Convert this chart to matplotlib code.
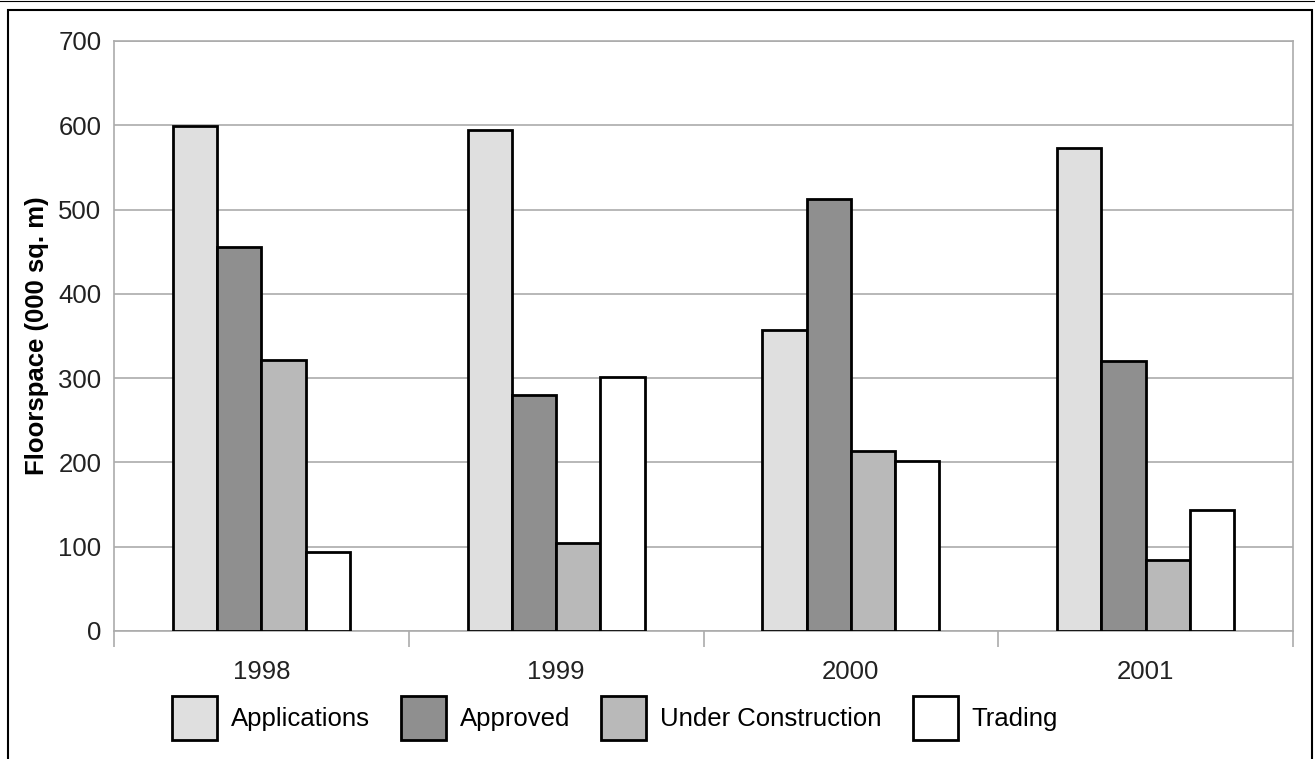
import matplotlib
matplotlib.use('Agg')
import matplotlib.pyplot as plt
import numpy as np
from matplotlib.patches import Rectangle
from matplotlib.lines import Line2D

plt.rcParams['font.family'] = ['Liberation Sans', 'DejaVu Sans']

years = ['1998', '1999', '2000', '2001']
series = ['Applications', 'Approved', 'Under Construction', 'Trading']
applications = [599, 594, 357, 573]
approved = [456, 280, 513, 320]
under_construction = [321, 105, 214, 84]
trading = [94, 301, 202, 143]
colors = ['#dfdfdf', '#8f8f8f', '#b9b9b9', '#ffffff']

grid_grey = '#ababab'


def main():
    fig = plt.figure(figsize=(13.15, 7.59), dpi=100)
    ax = fig.add_axes([114 / 1315, 1 - 631 / 759, 1179 / 1315, 590 / 759])

    x = np.arange(len(years))
    width = 0.15
    values = [applications, approved, under_construction, trading]
    for i, (name, vals, col) in enumerate(zip(series, values, colors)):
        ax.bar(x + (i - 1.5) * width, vals, width, color=col, edgecolor='black',
               linewidth=2.0, label=name, zorder=3)

    ax.set_xlim(-0.5, len(years) - 0.5)
    ax.set_ylim(0, 700)
    ax.set_yticks(np.arange(0, 701, 100))
    ax.yaxis.grid(True, color=grid_grey, linewidth=1.2, zorder=0)
    ax.tick_params(axis='y', length=0, pad=9, labelsize=18.5, labelcolor='#222222')

    # year labels at centres, separator ticks between the groups
    ax.set_xticks(x)
    ax.set_xticklabels(years)
    ax.set_xticks(np.arange(-0.5, len(years)), minor=True)
    ax.tick_params(axis='x', which='major', length=0, pad=21, labelsize=18.5,
                   labelcolor='#222222')
    ax.tick_params(axis='x', which='minor', length=11.5, width=1.2, color=grid_grey)

    for side in ['left', 'right', 'top', 'bottom']:
        ax.spines[side].set_color(grid_grey)
        ax.spines[side].set_linewidth(1.2)

    ax.set_ylabel('Floorspace (000 sq. m)', fontsize=18.5, fontweight='bold')
    ax.yaxis.set_label_coords(-0.055, 0.5)

    ax.legend(loc='center left', bbox_to_anchor=(172 / 1315, 1 - 718 / 759),
              bbox_transform=fig.transFigure, ncol=4, frameon=False, fontsize=18.5,
              handlelength=1.75, handleheight=2.2, handletextpad=0.55,
              columnspacing=1.2, borderpad=0, borderaxespad=0)

    # outer frame around the figure
    fig.patches.append(Rectangle((7.5 / 1315, -0.1), 1304 / 1315, 1.1 - 10 / 759,
                                 transform=fig.transFigure, fill=False,
                                 edgecolor='black', linewidth=1.5))
    fig.lines.append(Line2D([0, 1], [1 - 0.6 / 759, 1 - 0.6 / 759],
                            transform=fig.transFigure, color='black', linewidth=0.8))

    fig.savefig('out.png', dpi=100)


if __name__ == '__main__':
    main()
